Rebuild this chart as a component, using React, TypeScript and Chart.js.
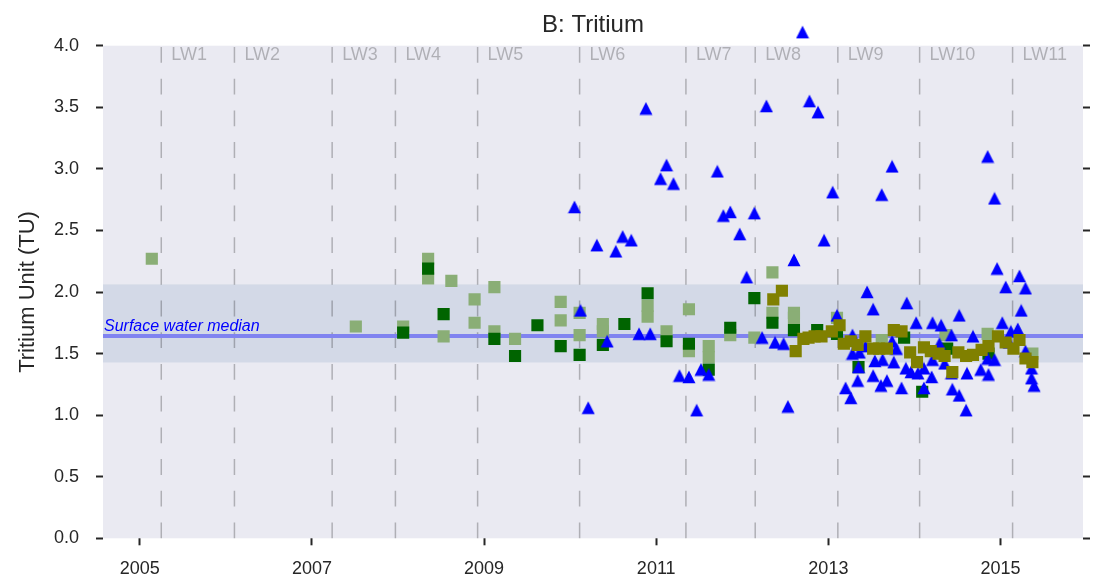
import React, { useEffect, useRef } from 'react';
import { Chart, registerables } from 'chart.js';

Chart.register(...registerables);

// ---- data ----
const yearTicks = [2005, 2007, 2009, 2011, 2013, 2015];
const tuTicks = [0, 0.5, 1, 1.5, 2, 2.5, 3, 3.5, 4];

const lwBoundaries = [2005.25, 2006.1, 2007.235, 2007.97, 2008.925, 2010.11, 2011.345, 2012.15, 2013.11, 2014.06, 2015.14];
const lwLabels = ['LW1', 'LW2', 'LW3', 'LW4', 'LW5', 'LW6', 'LW7', 'LW8', 'LW9', 'LW10', 'LW11'];

const medianTU = 1.642;
const bandLow = 1.428;
const bandHigh = 2.062;
const medianLabel = 'Surface water median';

const triYears = [
  2010.05, 2010.12, 2010.21, 2010.31, 2010.43, 2010.53, 2010.61, 2010.71, 2010.8, 2010.88,
  2010.93, 2011.05, 2011.12, 2011.2, 2011.27, 2011.38, 2011.47, 2011.52, 2011.61, 2011.71,
  2011.78, 2011.86, 2011.97, 2012.05, 2012.14, 2012.23, 2012.28, 2012.38, 2012.48, 2012.53,
  2012.6, 2012.7, 2012.78, 2012.88, 2012.95, 2013.05, 2013.1, 2013.2, 2013.26, 2013.28,
  2013.28, 2013.34, 2013.35, 2013.36, 2013.43, 2013.45, 2013.52, 2013.52, 2013.54, 2013.61,
  2013.62, 2013.63, 2013.68, 2013.74, 2013.74, 2013.76, 2013.79, 2013.85, 2013.9, 2013.91,
  2013.96, 2014.02, 2014.04, 2014.11, 2014.11, 2014.2, 2014.21, 2014.21, 2014.29, 2014.31,
  2014.35, 2014.43, 2014.43, 2014.44, 2014.52, 2014.52, 2014.6, 2014.61, 2014.68, 2014.77,
  2014.85, 2014.85, 2014.86, 2014.93, 2014.93, 2014.96, 2015.02, 2015.06, 2015.1, 2015.12,
  2015.2, 2015.22, 2015.24, 2015.29, 2015.29, 2015.36, 2015.36, 2015.39,
];
const triTU = [
  2.69, 1.85, 1.06, 2.38, 1.6, 2.33, 2.45, 2.42, 1.66, 3.49,
  1.66, 2.92, 3.03, 2.88, 1.32, 1.31, 1.04, 1.37, 1.33, 2.98,
  2.62, 2.65, 2.47, 2.12, 2.64, 1.63, 3.51, 1.59, 1.58, 1.07,
  2.26, 4.11, 3.55, 3.46, 2.42, 2.81, 1.81, 1.22, 1.14, 1.65,
  1.5, 1.28, 1.39, 1.51, 1.56, 2.0, 1.86, 1.32, 1.44, 1.24,
  2.79, 1.45, 1.28, 3.02, 1.6, 1.43, 1.54, 1.22, 1.38, 1.91,
  1.35, 1.75, 1.34, 1.38, 1.22, 1.31, 1.45, 1.75, 1.58, 1.73,
  1.42, 1.65, 1.34, 1.21, 1.16, 1.81, 1.04, 1.34, 1.64, 1.37,
  1.46, 3.1, 1.33, 1.45, 2.76, 2.19, 1.75, 2.04, 1.59, 1.68,
  1.7, 2.13, 1.85, 2.03, 1.52, 1.38, 1.3, 1.24,
];

const darkYears = [
  2008.06, 2008.35, 2008.53, 2009.12, 2009.36, 2009.62, 2009.89, 2010.11, 2010.38, 2010.63,
  2010.9, 2011.12, 2011.38, 2011.61, 2011.86, 2012.14, 2012.35, 2012.6, 2012.87, 2013.1,
  2013.35, 2013.88, 2014.09, 2014.38, 2014.86,
];
const darkTU = [
  1.67, 2.19, 1.82, 1.62, 1.48, 1.73, 1.56, 1.49, 1.57, 1.74,
  1.99, 1.6, 1.58, 1.37, 1.71, 1.95, 1.75, 1.69, 1.69, 1.66,
  1.39, 1.63, 1.19, 1.54, 1.5,
];

const lightYears = [
  2005.14, 2007.51, 2008.06, 2008.35, 2008.35, 2008.62, 2008.53, 2008.89, 2008.89, 2009.12,
  2009.12, 2009.36, 2009.89, 2009.89, 2010.11, 2010.11, 2010.38, 2010.38, 2010.9, 2010.9,
  2011.12, 2011.38, 2011.38, 2011.61, 2011.61, 2011.86, 2012.14, 2012.35, 2012.35, 2012.6,
  2012.6, 2013.1, 2013.62, 2014.36, 2014.85, 2015.37,
];
const lightTU = [
  2.27, 1.72, 1.72, 2.27, 2.11, 2.09, 1.64, 1.94, 1.75, 2.04,
  1.68, 1.62, 1.92, 1.77, 1.83, 1.65, 1.74, 1.68, 1.89, 1.8,
  1.68, 1.86, 1.52, 1.56, 1.47, 1.65, 1.63, 2.16, 1.83, 1.83,
  1.79, 1.79, 1.61, 1.65, 1.66, 1.5,
];

const oliveYears = [
  2012.36, 2012.46, 2012.62, 2012.71, 2012.77, 2012.84, 2012.92, 2013.04, 2013.13, 2013.18,
  2013.26, 2013.34, 2013.43, 2013.52, 2013.59, 2013.68, 2013.76, 2013.85, 2013.95, 2014.03,
  2014.11, 2014.19, 2014.28, 2014.35, 2014.44, 2014.51, 2014.6, 2014.68, 2014.78, 2014.86,
  2014.97, 2015.06, 2015.15, 2015.22, 2015.29, 2015.37,
];
const oliveTU = [
  1.94, 2.01, 1.52, 1.62, 1.63, 1.64, 1.64, 1.68, 1.73, 1.58,
  1.6, 1.57, 1.64, 1.54, 1.54, 1.54, 1.69, 1.68, 1.51, 1.43,
  1.55, 1.52, 1.5, 1.48, 1.35, 1.51, 1.48, 1.49, 1.53, 1.56,
  1.64, 1.59, 1.54, 1.61, 1.46, 1.43,
];

const FONT = "'Liberation Sans', Arial, sans-serif";
const TEXT = '#262626';

const toPoints = (xs: number[], ys: number[]) => xs.map((x, i) => ({ x, y: ys[i] }));

const decorPlugin = {
  id: 'decor',
  beforeDatasetsDraw(chart: any) {
    const { ctx, chartArea: a, scales } = chart;
    const x = scales.x;
    const y = scales.y;
    ctx.save();
    ctx.fillStyle = '#eaeaf2';
    ctx.fillRect(a.left, a.top, a.right - a.left, a.bottom - a.top);

    const bt = y.getPixelForValue(bandHigh);
    const bb = y.getPixelForValue(bandLow);
    ctx.fillStyle = '#d3d9e7';
    ctx.fillRect(a.left, bt, a.right - a.left, bb - bt);

    ctx.strokeStyle = 'rgba(0,0,0,0.25)';
    ctx.lineWidth = 1.5;
    ctx.setLineDash([15.8, 15.9]);
    lwBoundaries.forEach((b) => {
      const px = x.getPixelForValue(b);
      ctx.beginPath();
      ctx.moveTo(px, a.bottom);
      ctx.lineTo(px, a.top);
      ctx.stroke();
    });
    ctx.setLineDash([]);

    const ym = y.getPixelForValue(medianTU);
    ctx.strokeStyle = '#8083f0';
    ctx.lineWidth = 4;
    ctx.beginPath();
    ctx.moveTo(a.left, ym);
    ctx.lineTo(a.right, ym);
    ctx.stroke();

    ctx.fillStyle = '#0000ff';
    ctx.font = `italic 16px ${FONT}`;
    ctx.textBaseline = 'alphabetic';
    ctx.textAlign = 'left';
    ctx.fillText(medianLabel, a.left + 1, ym - 5);

    ctx.fillStyle = 'rgba(0,0,0,0.25)';
    ctx.font = `18px ${FONT}`;
    ctx.textBaseline = 'middle';
    lwBoundaries.forEach((b, i) => {
      const px = x.getPixelForValue(b);
      ctx.fillText(lwLabels[i], px + 10, a.top + 9);
    });
    ctx.restore();
  },
};

const tickGrid = {
  display: true,
  drawOnChartArea: false,
  drawTicks: true,
  tickLength: 7,
  tickWidth: 2,
  tickColor: TEXT,
};

export default function App() {
  const ref = useRef<HTMLCanvasElement | null>(null);

  useEffect(() => {
    const canvas = ref.current;
    if (!canvas) return;

    const tri = document.createElement('canvas');
    tri.width = 14;
    tri.height = 14;
    const t = tri.getContext('2d')!;
    t.fillStyle = '#0000ff';
    t.beginPath();
    t.moveTo(7, 0.5);
    t.lineTo(13.5, 13.3);
    t.lineTo(0.5, 13.3);
    t.closePath();
    t.fill();

    const chart = new Chart(canvas, {
      type: 'scatter',
      data: {
        datasets: [
          {
            label: 'olive',
            data: toPoints(oliveYears, oliveTU),
            pointStyle: 'rect',
            radius: 8.6,
            backgroundColor: '#808000',
            borderWidth: 0,
            order: 1,
          },
          {
            label: 'triangles',
            data: toPoints(triYears, triTU),
            pointStyle: tri as any,
            radius: 14,
            backgroundColor: '#0000ff',
            borderWidth: 0,
            clip: false as any,
            order: 2,
          },
          {
            label: 'dark',
            data: toPoints(darkYears, darkTU),
            pointStyle: 'rect',
            radius: 8.6,
            backgroundColor: '#006400',
            borderWidth: 0,
            order: 3,
          },
          {
            label: 'light',
            data: toPoints(lightYears, lightTU),
            pointStyle: 'rect',
            radius: 8.6,
            backgroundColor: '#8aae76',
            borderWidth: 0,
            order: 4,
          },
        ],
      },
      options: {
        responsive: false,
        animation: false,
        devicePixelRatio: 1,
        events: [],
        layout: { padding: 0 },
        plugins: {
          legend: { display: false },
          tooltip: { enabled: false },
          title: {
            display: true,
            text: 'B: Tritium',
            color: TEXT,
            font: { family: FONT, size: 24, weight: 'normal' },
            padding: { top: 10.5, bottom: 6.4 },
            fullSize: false,
          } as any,
        },
        scales: {
          x: {
            type: 'linear',
            min: 2004.573,
            max: 2015.958,
            afterBuildTicks: (s: any) => {
              s.ticks = yearTicks.map((v) => ({ value: v }));
            },
            afterFit: (s: any) => {
              s.height = 46.7;
            },
            ticks: {
              callback: (v: any) => String(v),
              color: TEXT,
              font: { family: FONT, size: 18 },
              padding: 13,
              maxRotation: 0,
              autoSkip: false,
            },
            grid: tickGrid as any,
            border: { display: false },
          },
          y: {
            type: 'linear',
            position: 'left',
            min: 0,
            max: 4,
            afterBuildTicks: (s: any) => {
              s.ticks = tuTicks.map((v) => ({ value: v }));
            },
            afterFit: (s: any) => {
              s.width = 103;
            },
            ticks: {
              callback: (v: any) => Number(v).toFixed(1),
              color: TEXT,
              font: { family: FONT, size: 18 },
              padding: 17,
              autoSkip: false,
            },
            grid: tickGrid as any,
            border: { display: false },
            title: {
              display: true,
              text: 'Tritium Unit (TU)',
              color: TEXT,
              font: { family: FONT, size: 22 },
              padding: { top: 15, bottom: 0 },
            },
          },
          y2: {
            type: 'linear',
            position: 'right',
            min: 0,
            max: 4,
            afterBuildTicks: (s: any) => {
              s.ticks = tuTicks.map((v) => ({ value: v }));
            },
            afterFit: (s: any) => {
              s.width = 9;
            },
            ticks: { display: false },
            grid: tickGrid as any,
            border: { display: false },
          },
        },
      },
      plugins: [decorPlugin],
    });

    return () => chart.destroy();
  }, []);

  return (
    <div style={{ position: 'fixed', left: 0, top: 0, width: 1097, height: 585, background: '#ffffff' }}>
      <canvas ref={ref} width={1097} height={585} style={{ display: 'block', width: 1097, height: 585 }} />
    </div>
  );
}
